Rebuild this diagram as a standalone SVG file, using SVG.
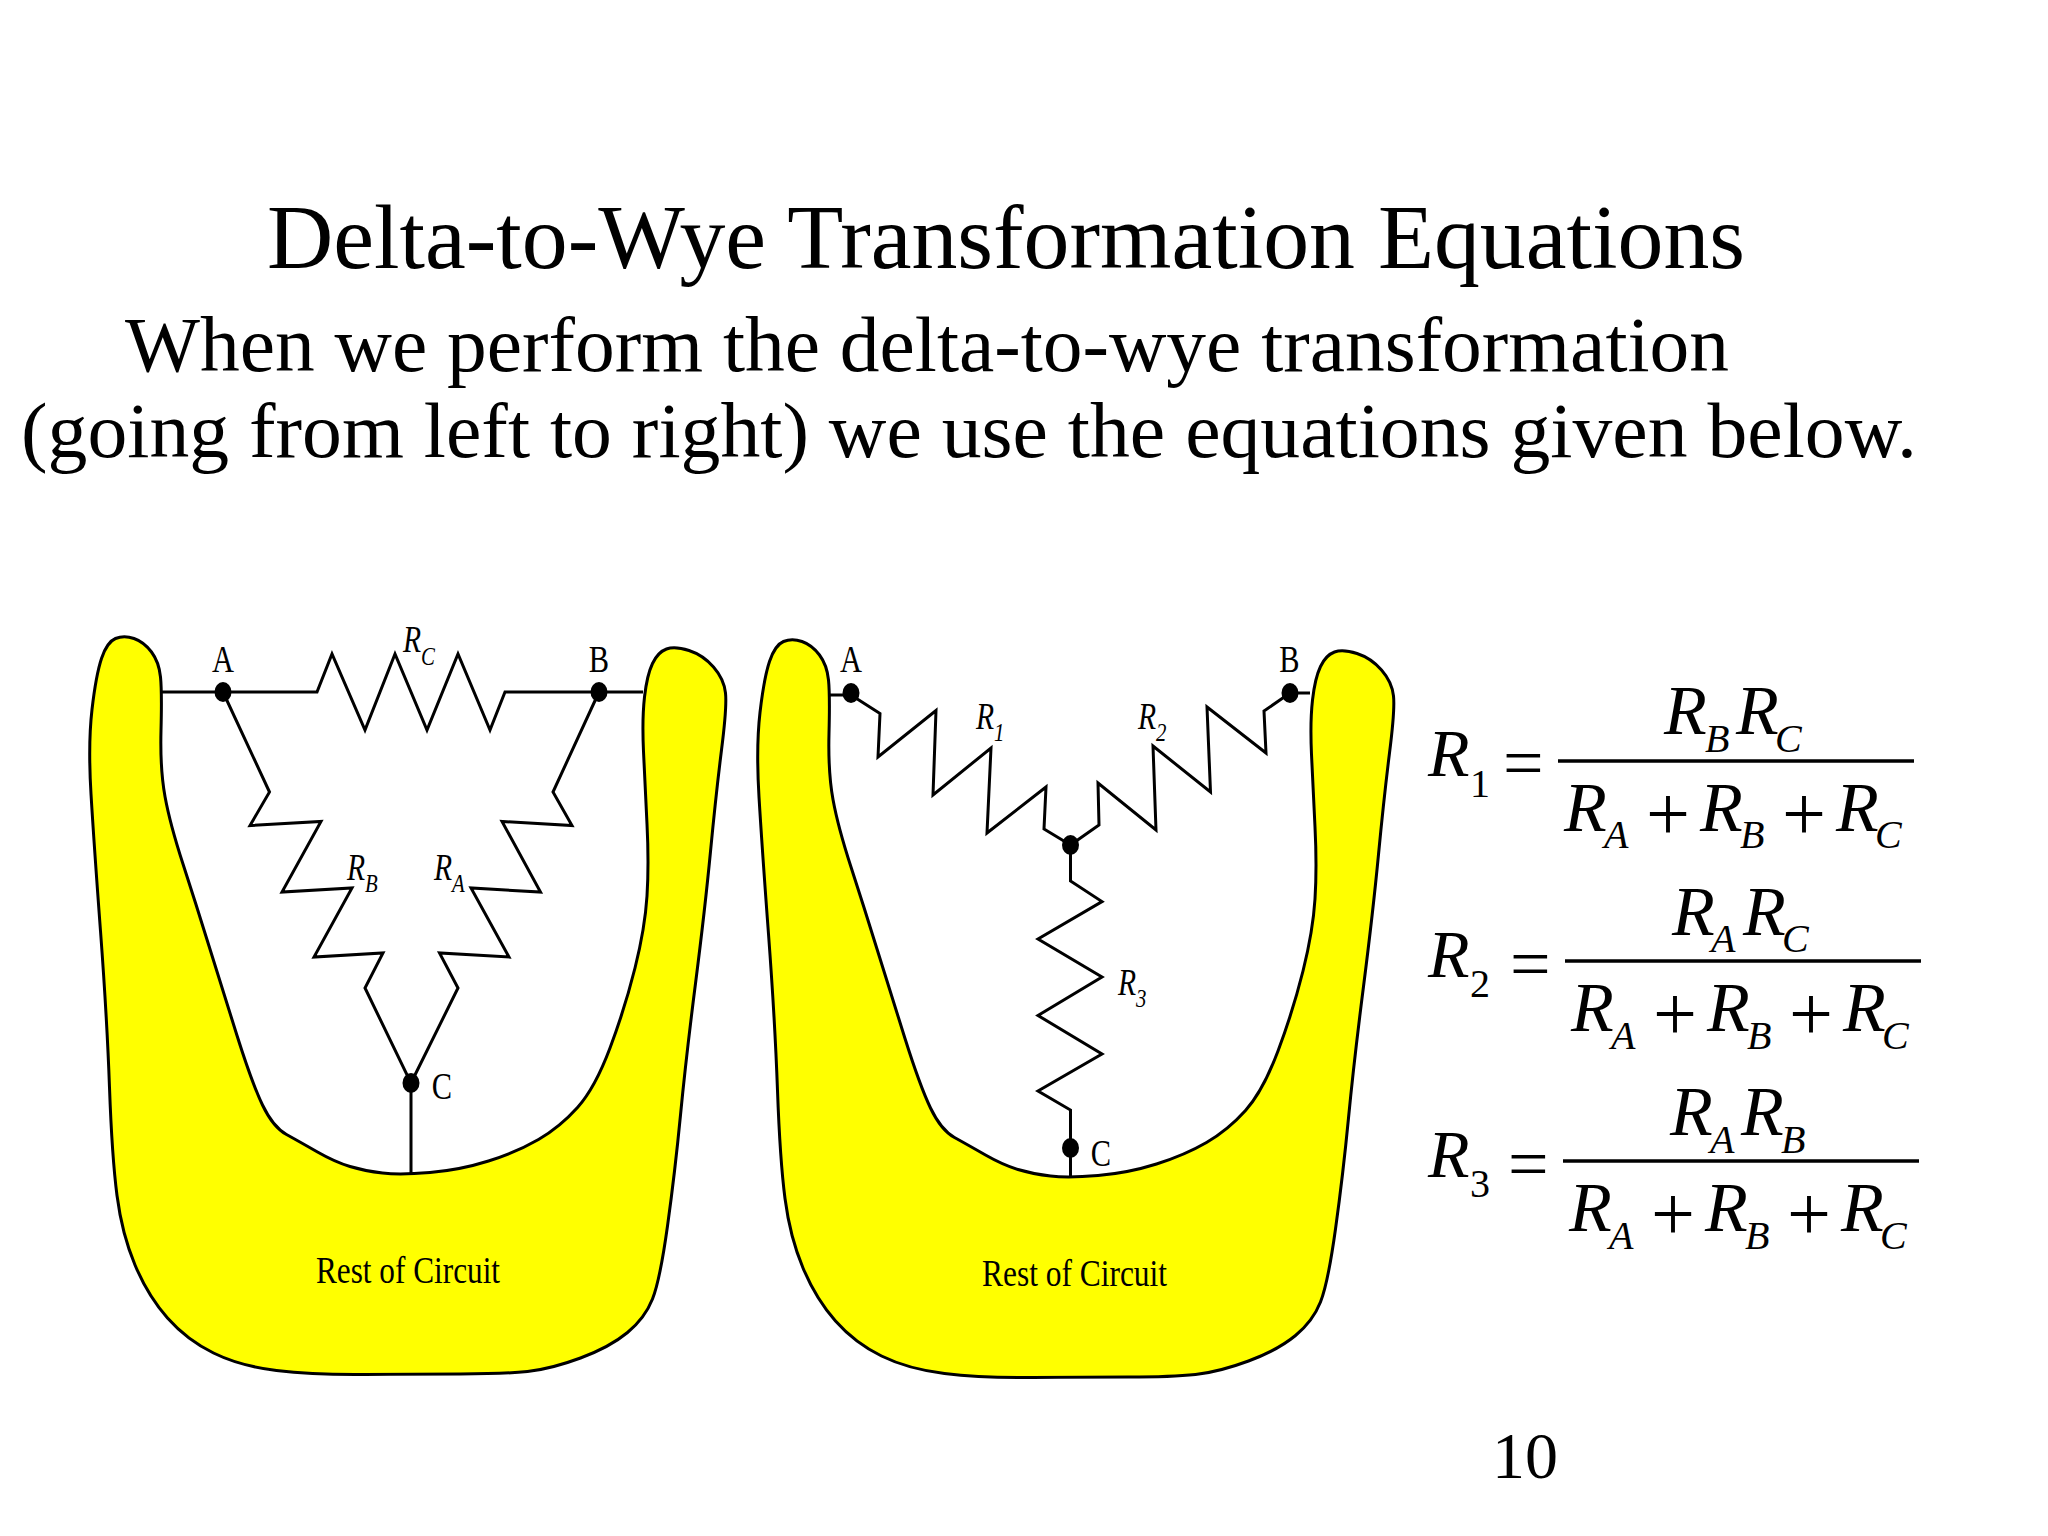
<svg xmlns="http://www.w3.org/2000/svg" width="2048" height="1536" viewBox="0 0 2048 1536">
<style>
text{font-family:"Liberation Serif","Times New Roman",serif;fill:#000}
.title{font-size:91px}
.body{font-size:78px}
.num{font-size:66px}
.pin{font-size:38px;text-anchor:middle}
.rest{font-size:38px}
.rl{font-size:37px;font-style:italic}
.rs{font-size:26px}
.eq{font-size:70px;font-style:italic}
.lhs{font-size:68px;font-style:italic}
.sub{font-size:40px;font-style:italic}
.nsub{font-size:40px}
.op{font-size:72px}
.plus{font-size:78px}
.blob{fill:#ffff00;stroke:#000;stroke-width:3;stroke-linejoin:round}
.wire{fill:none;stroke:#000;stroke-width:3;stroke-linejoin:miter}
.bar{stroke:#000;stroke-width:3.5}
</style>
<defs>
<path id="blobShape" class="blob" d="M91,794Q88,744 92,709.5Q96,675 101.5,658.5Q107,642 115.5,638.5Q124,635 134,638.5Q144,642 151.5,652Q159,662 160.5,677Q162,692 161,730.5Q160,769 165,796.5Q170,824 183,864Q196,904 209,946Q222,988 237,1035.5Q252,1083 262.5,1105Q273,1127 286.5,1134.5Q300,1142 317.5,1152Q335,1162 350,1166.5Q365,1171 382.5,1173Q400,1175 430,1172.5Q460,1170 488.5,1161Q517,1152 538.5,1139.5Q560,1127 577.5,1107.5Q595,1088 610,1048Q625,1008 635,968Q645,928 647,896Q649,864 647,824Q645,784 643.5,751.5Q642,719 644.5,697Q647,675 652.5,663.5Q658,652 666.5,649Q675,646 689,650.5Q703,655 713.5,667Q724,679 725.5,693Q727,707 721.5,750Q716,794 710.5,851.5Q705,909 695.5,983.5Q686,1058 680.5,1115Q675,1172 667.5,1226Q660,1280 652.5,1299Q645,1318 627.5,1332.5Q610,1347 580.5,1358Q551,1369 527.5,1371.5Q504,1374 460.5,1374Q417,1374 365,1374.5Q313,1375 276.5,1370.5Q240,1366 213.5,1353Q187,1340 167.5,1318Q148,1296 135,1265Q122,1234 117,1195.5Q112,1157 109.5,1087.5Q107,1018 100.5,931Q94,844 91,794Z"/>
</defs>
<rect width="2048" height="1536" fill="#fff"/>
<g id="heading">
<text class="title" x="267" y="268" textLength="1478" lengthAdjust="spacingAndGlyphs">Delta-to-Wye Transformation Equations</text>
<text class="body" x="125" y="371" textLength="1604" lengthAdjust="spacingAndGlyphs">When we perform the delta-to-wye transformation</text>
<text class="body" x="21" y="457" textLength="1896" lengthAdjust="spacingAndGlyphs">(going from left to right) we use the equations given below.</text>
</g>
<g id="delta-rest"><use href="#blobShape"/><text class="rest" x="316" y="1283" textLength="184" lengthAdjust="spacingAndGlyphs">Rest of Circuit</text></g>
<g id="wye-rest"><use href="#blobShape" transform="translate(668 3)"/><text class="rest" x="982" y="1286" textLength="185" lengthAdjust="spacingAndGlyphs">Rest of Circuit</text></g>
<g id="connectors">
<path id="delta-rc" class="wire" d="M162,692H317L332,654L365,730L395,654L427,730L458,654L490,730L505,692H643"/>
<path id="delta-rb" class="wire" d="M223,692L269.5,792L250,825.5L321,821.5L282,892L352,888L314,957L383,953L365,988L411,1083V1174"/>
<path id="delta-ra" class="wire" d="M599,692L553,792L572,825.5L502,821.5L540.5,892L471,888L509,957L439.5,953L458,988L411,1083"/>
<path id="wye-r1" class="wire" d="M829,695H851L880,713.5L878,757L936,710.5L933,795L991,748L987,833L1046,787L1044,829L1070.5,845"/>
<path id="wye-r2" class="wire" d="M1310,693H1290L1264,711L1266,753L1207,707L1210.5,792L1153,746L1156,830L1098,783L1099,825L1070.5,845"/>
<path id="wye-r3" class="wire" d="M1070.5,845V881L1102,901.6L1038,939L1102,977L1038,1015.5L1102,1054L1038,1091L1070.5,1110V1177"/>
</g>
<g id="node-a"><ellipse cx="223" cy="692" rx="8.5" ry="10"/><text class="pin" transform="translate(223 672) scale(.8 1)">A</text></g>
<g id="node-b"><ellipse cx="599" cy="692" rx="8.5" ry="10"/><text class="pin" transform="translate(599 672) scale(.8 1)">B</text></g>
<g id="node-c"><ellipse cx="411" cy="1083" rx="8.5" ry="10"/><text class="pin" transform="translate(442 1099) scale(.8 1)">C</text></g>
<g id="node-a2"><ellipse cx="851" cy="693" rx="8.5" ry="10"/><text class="pin" transform="translate(851 672) scale(.8 1)">A</text></g>
<g id="node-b2"><ellipse cx="1290" cy="693" rx="8.5" ry="10"/><text class="pin" transform="translate(1289.5 672) scale(.8 1)">B</text></g>
<g id="node-c2"><ellipse cx="1070.5" cy="1148" rx="8.5" ry="10"/><text class="pin" transform="translate(1101 1166) scale(.8 1)">C</text></g>
<ellipse id="node-n" cx="1070.5" cy="845" rx="8.5" ry="10"/>
<g id="resistor-labels">
<text class="rl" transform="translate(403 652) scale(.8 1)">R<tspan class="rs" dy="13">C</tspan></text>
<text class="rl" transform="translate(347 880) scale(.8 1)">R<tspan class="rs" dy="12">B</tspan></text>
<text class="rl" transform="translate(434 880) scale(.8 1)">R<tspan class="rs" dy="12">A</tspan></text>
<text class="rl" transform="translate(976 729) scale(.8 1)">R<tspan class="rs" dy="12">1</tspan></text>
<text class="rl" transform="translate(1138 729) scale(.8 1)">R<tspan class="rs" dy="12">2</tspan></text>
<text class="rl" transform="translate(1118 995) scale(.8 1)">R<tspan class="rs" dy="12">3</tspan></text>
</g>
<g id="equation-1">
<text class="lhs" x="1428" y="776">R</text><text class="nsub" x="1470" y="797">1</text><text class="op" x="1503" y="787">=</text>
<line class="bar" x1="1558" y1="761" x2="1914" y2="761"/>
<text class="eq" x="1664" y="734">R</text><text class="sub" x="1705" y="752">B</text><text class="eq" x="1736" y="734">R</text><text class="sub" x="1775" y="752">C</text>
<text class="eq" x="1564" y="831">R</text><text class="sub" x="1604" y="848">A</text><text class="plus" x="1646" y="840">+</text><text class="eq" x="1700" y="831">R</text><text class="sub" x="1740" y="848">B</text><text class="plus" x="1782" y="840">+</text><text class="eq" x="1836" y="831">R</text><text class="sub" x="1875" y="848">C</text>
</g>
<g id="equation-2">
<text class="lhs" x="1428" y="977">R</text><text class="nsub" x="1470" y="997">2</text><text class="op" x="1510" y="988">=</text>
<line class="bar" x1="1565" y1="961" x2="1921" y2="961"/>
<text class="eq" x="1672" y="935">R</text><text class="sub" x="1711" y="952">A</text><text class="eq" x="1743" y="935">R</text><text class="sub" x="1782" y="952">C</text>
<text class="eq" x="1571" y="1031">R</text><text class="sub" x="1611" y="1049">A</text><text class="plus" x="1653" y="1040">+</text><text class="eq" x="1707" y="1031">R</text><text class="sub" x="1747" y="1049">B</text><text class="plus" x="1789" y="1040">+</text><text class="eq" x="1843" y="1031">R</text><text class="sub" x="1882" y="1049">C</text>
</g>
<g id="equation-3">
<text class="lhs" x="1428" y="1177">R</text><text class="nsub" x="1470" y="1197">3</text><text class="op" x="1508" y="1188">=</text>
<line class="bar" x1="1563" y1="1161" x2="1919" y2="1161"/>
<text class="eq" x="1670" y="1135">R</text><text class="sub" x="1710" y="1153">A</text><text class="eq" x="1741" y="1135">R</text><text class="sub" x="1781" y="1153">B</text>
<text class="eq" x="1569" y="1231">R</text><text class="sub" x="1609" y="1249">A</text><text class="plus" x="1651" y="1240">+</text><text class="eq" x="1705" y="1231">R</text><text class="sub" x="1745" y="1249">B</text><text class="plus" x="1787" y="1240">+</text><text class="eq" x="1841" y="1231">R</text><text class="sub" x="1880" y="1249">C</text>
</g>
<text id="page-number" class="num" x="1492" y="1478">10</text>
</svg>
